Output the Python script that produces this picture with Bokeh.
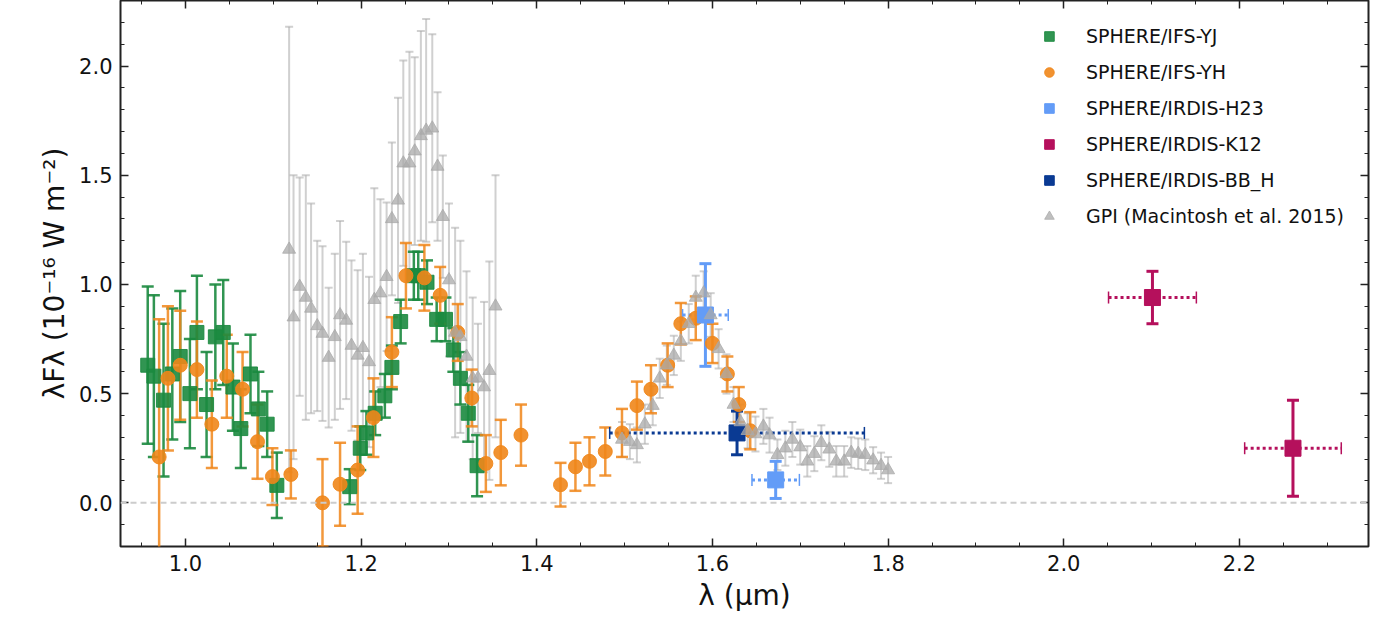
from bokeh.plotting import figure
from bokeh.models import (ColumnDataSource, Whisker, TeeHead, LinearAxis, Span,
                          Range1d, Legend, FixedTicker)
from bokeh.embed import file_html
from bokeh.resources import INLINE

# SPHERE/IFS-YJ
yj_x = [0.957, 0.964, 0.975, 0.985, 0.994, 1.005, 1.013, 1.024, 1.034, 1.043, 1.054,
        1.063, 1.074, 1.083, 1.093, 1.104, 1.187, 1.199, 1.206, 1.216, 1.227, 1.235,
        1.245, 1.260, 1.265, 1.275, 1.286, 1.296, 1.305, 1.313, 1.322, 1.332]
yj_y = [0.63, 0.58, 0.47, 0.59, 0.67, 0.50, 0.78, 0.45, 0.76, 0.78, 0.53,
        0.34, 0.59, 0.43, 0.36, 0.08, 0.074, 0.25, 0.32, 0.41, 0.49, 0.62,
        0.83, 1.04, 1.04, 1.01, 0.84, 0.84, 0.70, 0.57, 0.41, 0.17]
yj_e = [0.36, 0.37, 0.35, 0.30, 0.30, 0.25, 0.26, 0.24, 0.24, 0.24, 0.20,
        0.18, 0.18, 0.17, 0.15, 0.15, 0.08, 0.10, 0.10, 0.10, 0.10, 0.10,
        0.10, 0.11, 0.11, 0.10, 0.10, 0.10, 0.10, 0.12, 0.13, 0.14]

# SPHERE/IFS-YH
yh_x = [0.970, 0.980, 0.994, 1.013, 1.030, 1.047, 1.065, 1.082, 1.099, 1.120, 1.156,
        1.176, 1.196, 1.214, 1.235, 1.251, 1.272, 1.290, 1.310, 1.326, 1.342, 1.359,
        1.382, 1.427, 1.444, 1.460, 1.478, 1.497, 1.514, 1.530, 1.549, 1.564, 1.581,
        1.600, 1.617, 1.630, 1.643]
yh_y = [0.21, 0.57, 0.63, 0.61, 0.36, 0.58, 0.52, 0.28, 0.12, 0.13, 0.00,
        0.085, 0.15, 0.39, 0.69, 1.04, 1.03, 0.95, 0.78, 0.48, 0.18, 0.23,
        0.31, 0.083, 0.165, 0.19, 0.235, 0.32, 0.445, 0.52, 0.63, 0.82, 0.845,
        0.73, 0.59, 0.45, 0.33]
yh_e = [0.63, 0.33, 0.25, 0.22, 0.20, 0.19, 0.17, 0.17, 0.13, 0.11, 0.20,
        0.19, 0.20, 0.18, 0.16, 0.15, 0.15, 0.13, 0.13, 0.13, 0.13, 0.15,
        0.14, 0.10, 0.11, 0.11, 0.11, 0.11, 0.11, 0.11, 0.10, 0.095, 0.10,
        0.09, 0.08, 0.08, 0.085]

# SPHERE/IRDIS photometry
h23_x = [1.592, 1.672]
h23_y = [0.86, 0.105]
h23_ye = [0.235, 0.085]
h23_xe = [0.026, 0.027]

k12_x = [2.101, 2.261]
k12_y = [0.94, 0.25]
k12_ye = [0.12, 0.22]
k12_xe = [0.05, 0.055]

bbh_x = [1.628]
bbh_y = [0.32]
bbh_ye = [0.10]
bbh_xe = [0.145]

# GPI (Macintosh et al. 2015)
gpi_x = [1.118, 1.123, 1.130, 1.137, 1.143, 1.150, 1.156, 1.163, 1.170, 1.176, 1.183,
         1.189, 1.196, 1.202, 1.209, 1.215, 1.222, 1.229, 1.235, 1.242, 1.248, 1.255,
         1.261, 1.268, 1.274, 1.281, 1.287, 1.293, 1.300, 1.307, 1.313, 1.320, 1.327,
         1.333, 1.340, 1.346, 1.353,
         1.497, 1.506, 1.514, 1.523, 1.532, 1.540, 1.548, 1.556, 1.564, 1.573, 1.581,
         1.590, 1.598, 1.607, 1.616, 1.624, 1.632, 1.640, 1.649, 1.658, 1.665, 1.674,
         1.683, 1.691, 1.700, 1.708, 1.716, 1.724, 1.733, 1.741, 1.750, 1.758, 1.766,
         1.774, 1.783, 1.792, 1.800]
gpi_y = [1.16, 0.85, 0.99, 0.94, 0.89, 0.81, 0.775, 0.665, 0.76, 0.86, 0.835,
         0.72, 0.675, 0.71, 0.645, 0.93, 0.96, 1.035, 1.30, 1.385, 1.555, 1.555,
         1.61, 1.68, 1.705, 1.715, 1.54, 1.31, 1.02, 0.78, 0.76, 0.67, 0.57,
         0.57, 0.53, 0.605, 0.90,
         0.29, 0.28, 0.265, 0.36, 0.445, 0.57, 0.63, 0.675, 0.74, 0.82, 0.94,
         0.96, 0.86, 0.705, 0.59, 0.45, 0.37, 0.33, 0.315, 0.35, 0.31, 0.22,
         0.25, 0.29, 0.255, 0.19, 0.225, 0.275, 0.245, 0.19, 0.19, 0.23, 0.225,
         0.22, 0.195, 0.17, 0.15]
gpi_e = [1.02, 0.65, 0.50, 0.56, 0.48, 0.39, 0.40, 0.32, 0.38, 0.43, 0.36,
         0.39, 0.39, 0.43, 0.39, 0.51, 0.43, 0.34, 0.35, 0.47, 0.47, 0.51,
         0.43, 0.48, 0.51, 0.43, 0.34, 0.28, 0.35, 0.48, 0.44, 0.39, 0.37,
         0.25, 0.39, 0.50, 0.60,
         0.08, 0.08, 0.08, 0.09, 0.09, 0.09, 0.09, 0.09, 0.09, 0.09, 0.10,
         0.10, 0.10, 0.09, 0.09, 0.08, 0.08, 0.08, 0.08, 0.08, 0.08, 0.07,
         0.08, 0.08, 0.08, 0.07, 0.08, 0.08, 0.08, 0.07, 0.07, 0.07, 0.07,
         0.07, 0.06, 0.06, 0.06]

x_ticks = [1.0, 1.2, 1.4, 1.6, 1.8, 2.0, 2.2]
y_ticks = [0.0, 0.5, 1.0, 1.5, 2.0]

FONT = "DejaVu Sans"

p = figure(width=1374, height=625, output_backend="svg", toolbar_location=None,
           x_range=Range1d(0.926, 2.347), y_range=Range1d(-0.2, 2.3),
           min_border_left=120, min_border_right=6, min_border_top=0,
           min_border_bottom=79)
p.grid.visible = False
p.outline_line_color = "#222222"
p.outline_line_width = 2

p.add_layout(Span(location=0, dimension="width", line_color="#cccccc",
                  line_dash="6 4", line_width=2))


def errs(x, y, ye, color, alpha, width, xe=None, dash="solid", cap=12):
    src = ColumnDataSource(dict(
        x=x, y=y,
        lo=[a - b for a, b in zip(y, ye)], hi=[a + b for a, b in zip(y, ye)]))
    w = Whisker(source=src, base="x", lower="lo", upper="hi", dimension="height",
                line_color=color, line_alpha=alpha, line_width=width,
                upper_head=TeeHead(size=cap, line_color=color, line_alpha=alpha, line_width=width),
                lower_head=TeeHead(size=cap, line_color=color, line_alpha=alpha, line_width=width))
    p.add_layout(w)
    if xe is not None:
        xs = ColumnDataSource(dict(
            y=y, lo=[a - b for a, b in zip(x, xe)], hi=[a + b for a, b in zip(x, xe)]))
        wx = Whisker(source=xs, base="y", lower="lo", upper="hi", dimension="width",
                     line_color=color, line_alpha=alpha, line_width=3, line_dash=dash,
                     upper_head=TeeHead(size=cap, line_color=color, line_width=1.5),
                     lower_head=TeeHead(size=cap, line_color=color, line_width=1.5))
        p.add_layout(wx)


green = "#1b8a3f"
orange = "#f0861a"
lblue = "#639cf7"
magenta = "#b5105c"
dblue = "#0a3a93"
gray = "#aaaaaa"

errs(gpi_x, gpi_y, gpi_e, gray, 0.55, 2, cap=8)
errs(yj_x, yj_y, yj_e, green, 0.9, 2.5)
errs(yh_x, yh_y, yh_e, orange, 0.85, 2.5)

r_yj = p.scatter(yj_x, yj_y, marker="square", size=14, color=green, alpha=0.9)
r_yh = p.scatter(yh_x, yh_y, marker="circle", size=14, color=orange, alpha=0.9)

errs(h23_x, h23_y, h23_ye, lblue, 1, 3, xe=h23_xe, dash="3 3")
r_h23 = p.scatter(h23_x, h23_y, marker="square", size=16, color=lblue)
errs(k12_x, k12_y, k12_ye, magenta, 1, 3, xe=k12_xe, dash="3 3")
r_k12 = p.scatter(k12_x, k12_y, marker="square", size=16, color=magenta)
errs(bbh_x, bbh_y, bbh_ye, dblue, 1, 3, xe=bbh_xe, dash="3 3")
r_bbh = p.scatter(bbh_x, bbh_y, marker="square", size=16, color=dblue)
r_gpi = p.scatter(gpi_x, gpi_y, marker="triangle", size=13, color=gray, alpha=0.75)

legend = Legend(items=[("SPHERE/IFS-YJ", [r_yj]), ("SPHERE/IFS-YH", [r_yh]),
                       ("SPHERE/IRDIS-H23", [r_h23]), ("SPHERE/IRDIS-K12", [r_k12]),
                       ("SPHERE/IRDIS-BB_H", [r_bbh]),
                       ("GPI (Macintosh et al. 2015)", [r_gpi])],
                location="top_right", border_line_alpha=0, background_fill_alpha=0,
                label_text_font=FONT, label_text_font_size="19px",
                label_text_color="#111111",
                label_standoff=22, spacing=12, glyph_width=30, glyph_height=24,
                margin=14)
p.add_layout(legend)

p.xaxis.axis_label = "λ (µm)"
p.yaxis.axis_label = "λFλ (10⁻¹⁶ W m⁻²)"

xt = FixedTicker(ticks=x_ticks, minor_ticks=[0.95 + 0.05 * i for i in range(28)])
yt = FixedTicker(ticks=y_ticks, minor_ticks=[-0.2 + 0.1 * i for i in range(25)])
p.xaxis[0].ticker = xt
p.yaxis[0].ticker = yt
p.xaxis[0].major_label_overrides = {1.0: "1.0", 2.0: "2.0"}
p.yaxis[0].major_label_overrides = {0.0: "0.0", 1.0: "1.0", 2.0: "2.0"}
for ax in [p.xaxis[0], p.yaxis[0]]:
    ax.axis_label_text_font = FONT
    ax.axis_label_text_font_size = "28px"
    ax.axis_label_text_font_style = "normal"
    ax.axis_label_text_color = "#111111"
    ax.major_label_text_font = FONT
    ax.major_label_text_font_size = "21px"
    ax.major_label_text_color = "#111111"
    ax.major_label_standoff = 8

top = LinearAxis(ticker=xt, major_label_overrides={t: "" for t in x_ticks})
right = LinearAxis(ticker=yt, major_label_overrides={t: "" for t in y_ticks})
p.add_layout(top, "above")
p.add_layout(right, "right")
for ax in [top, right]:
    ax.major_label_standoff = 0
    ax.major_label_text_font_size = "1px"

for ax in p.axis:
    ax.axis_line_color = None
    ax.major_tick_in = 8
    ax.major_tick_out = 0
    ax.minor_tick_in = 4
    ax.minor_tick_out = 0
    ax.major_tick_line_width = 1.5
    ax.major_tick_line_color = "#222222"
    ax.minor_tick_line_color = "#222222"

open("out.html", "w").write(file_html(p, INLINE))
